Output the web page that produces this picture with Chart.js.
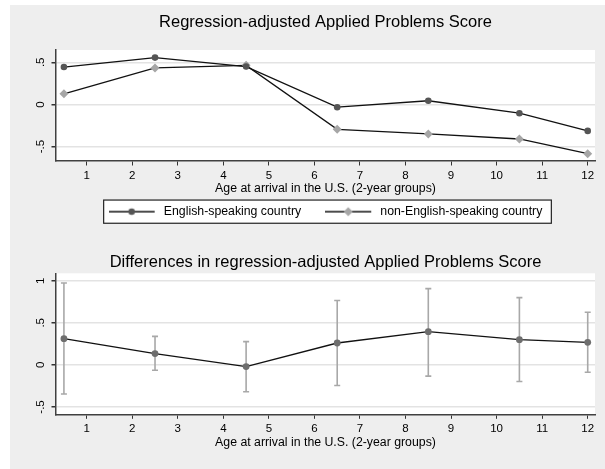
<!DOCTYPE html>
<html>
<head>
<meta charset="utf-8">
<script src="https://cdn.jsdelivr.net/npm/chart.js@4.4.1/dist/chart.umd.min.js"></script>
<style>
  html, body { margin: 0; padding: 0; background: #fff; }
  #wrap { position: relative; width: 605px; height: 469px; overflow: hidden; }
  #bg { position: absolute; left: 10px; top: 5px; right: 0; bottom: 0; background: #eeeeee; }
  canvas { position: absolute; left: 0; }
  #topChart { top: 0; }
  #diffChart { top: 240px; }
</style>
</head>
<body>
<div id="wrap">
  <div id="bg"></div>
  <canvas id="topChart" width="605" height="240"></canvas>
  <canvas id="diffChart" width="605" height="229"></canvas>
</div>
<script>
// Age groups (midpoints of the 2-year groups) and the values
var ages = [0.5, 2.5, 4.5, 6.5, 8.5, 10.5, 12];
var english = [0.444, 0.556, 0.450, -0.032, 0.044, -0.103, -0.313];
var nonEnglish = [0.127, 0.433, 0.464, -0.294, -0.349, -0.409, -0.583];

var diff = [0.311, 0.134, -0.020, 0.260, 0.394, 0.299, 0.268];
var diffLo = [-0.346, -0.063, -0.319, -0.244, -0.134, -0.197, -0.087];
var diffHi = [0.972, 0.339, 0.276, 0.764, 0.906, 0.799, 0.626];

var xTicks = [1, 2, 3, 4, 5, 6, 7, 8, 9, 10, 11, 12];
var topYTicks = [-0.5, 0, 0.5];
var diffYTicks = [-0.5, 0, 0.5, 1];

var topTitle = 'Regression-adjusted Applied Problems Score';
var diffTitle = 'Differences in regression-adjusted Applied Problems Score';
var xTitle = 'Age at arrival in the U.S. (2-year groups)';
var seriesNames = ['English-speaking country', 'non-English-speaking country'];

(function () {

    Chart.defaults.font.family = "'Liberation Sans', Arial, sans-serif";
    Chart.defaults.color = '#000';

    // stata style labels: .5, -.5
    function fmt(v) {
        if (v === 0) return '0';
        var s = String(v);
        return s.replace(/^(-?)0\./, '$1.');
    }

    function pairs(ys) {
        return ages.map(function (a, i) { return { x: a, y: ys[i] }; });
    }

    // legend key: line with marker in the middle
    function makeKey(shape, color, r) {
        var c = document.createElement('canvas');
        c.width = 49;
        c.height = 12;
        var g = c.getContext('2d');
        g.strokeStyle = '#111';
        g.lineWidth = 1.3;
        g.beginPath();
        g.moveTo(0, 6);
        g.lineTo(46, 6);
        g.stroke();
        g.fillStyle = color;
        g.beginPath();
        if (shape === 'circle') {
            g.arc(23, 6, r, 0, Math.PI * 2);
        } else {
            g.moveTo(23 - r, 6);
            g.lineTo(23, 6 - r);
            g.lineTo(23 + r, 6);
            g.lineTo(23, 6 + r);
            g.closePath();
        }
        g.fill();
        return c;
    }

    var plotBackground = {
        id: 'plotBackground',
        beforeDraw: function (chart) {
            var a = chart.chartArea;
            var ctx = chart.ctx;
            ctx.save();
            ctx.fillStyle = '#ffffff';
            ctx.fillRect(a.left, a.top, a.right - a.left, a.bottom - a.top);
            ctx.restore();
        }
    };

    var legendFrame = {
        id: 'legendFrame',
        beforeDraw: function (chart) {
            var hb = chart.legend && chart.legend.legendHitBoxes;
            if (!hb || !hb.length) return;
            var first = hb[0], last = hb[hb.length - 1];
            var cy = first.top + first.height / 2;
            var left = first.left - 5;
            var right = last.left + last.width + 9;
            var ctx = chart.ctx;
            ctx.save();
            ctx.fillStyle = '#ffffff';
            ctx.fillRect(left, cy - 11.6, right - left, 23.2);
            ctx.strokeStyle = '#222';
            ctx.lineWidth = 1.2;
            ctx.strokeRect(left, cy - 11.6, right - left, 23.2);
            ctx.restore();
        }
    };

    var errorBars = {
        id: 'errorBars',
        beforeDatasetsDraw: function (chart) {
            var xs = chart.scales.x, ys = chart.scales.y;
            var ctx = chart.ctx;
            ctx.save();
            ctx.strokeStyle = '#a8a8a8';
            ctx.lineWidth = 1.6;
            ages.forEach(function (a, i) {
                var px = xs.getPixelForValue(a);
                var lo = ys.getPixelForValue(diffLo[i]);
                var hi = ys.getPixelForValue(diffHi[i]);
                ctx.beginPath();
                ctx.moveTo(px, lo);
                ctx.lineTo(px, hi);
                ctx.moveTo(px - 3, lo);
                ctx.lineTo(px + 3, lo);
                ctx.moveTo(px - 3, hi);
                ctx.lineTo(px + 3, hi);
                ctx.stroke();
            });
            ctx.restore();
        }
    };

    function xAxis(height, titlePadBottom) {
        return {
            type: 'linear',
            min: 0.326,
            max: 12.16,
            afterBuildTicks: function (ax) { ax.ticks = xTicks.map(function (v) { return { value: v }; }); },
            afterFit: function (ax) { ax.height = height; },
            ticks: { padding: 3.3, font: { size: 11.5 }, color: '#000', maxRotation: 0, autoSkip: false },
            grid: { drawOnChartArea: false, drawTicks: true, tickColor: '#333', tickLength: 4.5 },
            border: { display: true, color: '#404040', width: 1.5 },
            title: { display: true, text: xTitle, font: { size: 12.3 }, color: '#000', padding: { top: 0, bottom: titlePadBottom } }
        };
    }

    function yAxis(min, max, tickVals) {
        return {
            type: 'linear',
            min: min,
            max: max,
            afterBuildTicks: function (ax) { ax.ticks = tickVals.map(function (v) { return { value: v }; }); },
            afterFit: function (ax) { ax.width = 46; },
            ticks: { minRotation: 90, maxRotation: 90, crossAlign: 'center', padding: 4, font: { size: 11.5 }, color: '#000', autoSkip: false, callback: fmt },
            grid: { color: '#e3e3e3', lineWidth: 1.5, tickColor: '#333', tickLength: 4.5 },
            border: { display: true, color: '#404040', width: 1.5 }
        };
    }

    var keyImages = [makeKey('circle', '#555555', 3.3), makeKey('diamond', '#a6a6a6', 4.5)];

    new Chart(document.getElementById('topChart').getContext('2d'), {
        type: 'line',
        data: {
            datasets: [
                {
                    label: seriesNames[0],
                    data: pairs(english),
                    borderColor: '#111',
                    borderWidth: 1.3,
                    pointStyle: 'circle',
                    pointRadius: 3.3,
                    pointBorderWidth: 0,
                    pointBackgroundColor: '#555555',
                    clip: false
                },
                {
                    label: seriesNames[1],
                    data: pairs(nonEnglish),
                    borderColor: '#111',
                    borderWidth: 1.3,
                    pointStyle: 'rectRot',
                    pointRadius: 4.5,
                    pointBorderWidth: 0,
                    pointBackgroundColor: '#a6a6a6',
                    clip: false
                }
            ]
        },
        options: {
            responsive: false,
            animation: false,
            events: [],
            layout: { padding: { left: 10, right: 10, top: 0, bottom: 12.2 }, autoPadding: false },
            scales: {
                x: xAxis(20.5, -14.9),
                y: yAxis(-0.67, 0.646, topYTicks)
            },
            plugins: {
                tooltip: { enabled: false },
                title: {
                    display: true,
                    text: topTitle,
                    fullSize: false,
                    font: { size: 16.5, weight: 'normal' },
                    color: '#000',
                    padding: { top: 12.3, bottom: 17.9 }
                },
                legend: {
                    display: true,
                    position: 'bottom',
                    fullSize: false,
                    labels: {
                        usePointStyle: true,
                        pointStyleWidth: 49,
                        padding: 24,
                        font: { size: 12.3 },
                        color: '#000',
                        generateLabels: function (chart) {
                            return chart.data.datasets.map(function (ds, i) {
                                return { text: ds.label, pointStyle: keyImages[i], datasetIndex: i, hidden: false, fontColor: '#000', lineWidth: 0 };
                            });
                        }
                    }
                }
            }
        },
        plugins: [plotBackground, legendFrame]
    });

    new Chart(document.getElementById('diffChart').getContext('2d'), {
        type: 'line',
        data: {
            datasets: [
                {
                    label: 'difference',
                    data: pairs(diff),
                    borderColor: '#111',
                    borderWidth: 1.3,
                    pointStyle: 'circle',
                    pointRadius: 3.4,
                    pointBorderWidth: 0,
                    pointBackgroundColor: '#6e6e6e',
                    clip: false
                }
            ]
        },
        options: {
            responsive: false,
            animation: false,
            events: [],
            layout: { padding: { left: 10, right: 10, top: 0, bottom: 0 }, autoPadding: false },
            scales: {
                x: xAxis(54.7, 19.4),
                y: yAxis(-0.587, 1.088, diffYTicks)
            },
            plugins: {
                tooltip: { enabled: false },
                legend: { display: false },
                title: {
                    display: true,
                    text: diffTitle,
                    fullSize: false,
                    font: { size: 16.5, weight: 'normal' },
                    color: '#000',
                    padding: { top: 12.3, bottom: 1.2 }
                }
            }
        },
        plugins: [plotBackground, errorBars]
    });

}());
</script>
</body>
</html>
